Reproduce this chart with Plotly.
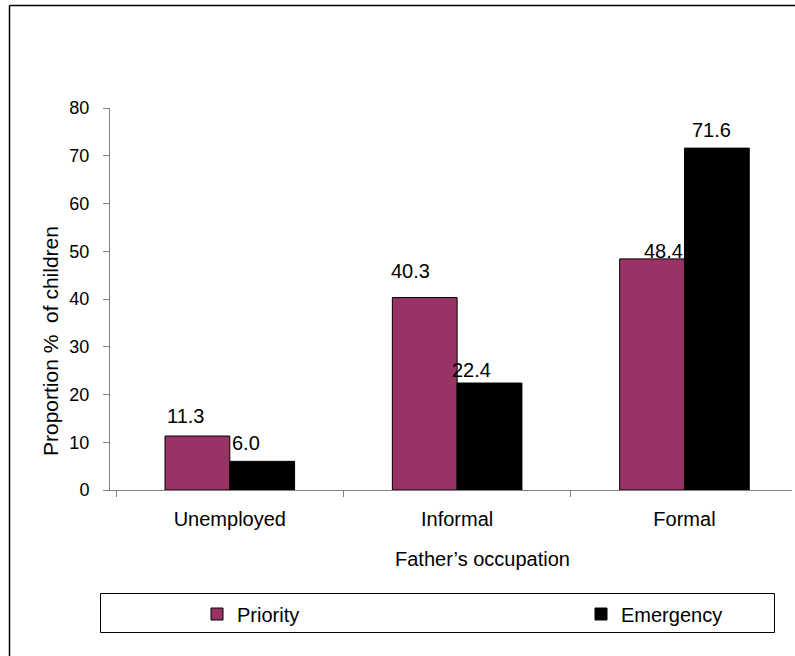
import plotly.graph_objects as go

# Data
categories = ["Unemployed", "Informal", "Formal"]
priority = [11.3, 40.3, 48.4]
emergency = [6.0, 22.4, 71.6]
y_ticks = [0, 10, 20, 30, 40, 50, 60, 70, 80]

# Figure geometry (pixels)
W, H = 795, 656
L, R, T, B = 110, 3, 108, 166
PW, PH = W - L - R, H - T - B


def px_x(x):
    return (x - L) / PW


def px_y(y):
    return (H - B - y) / PH


FONT = "Arial, 'Liberation Sans', sans-serif"
AXIS_GREY = "#808080"

fig = go.Figure()
fig.add_trace(go.Bar(
    name="Priority", x=categories, y=priority, legend="legend",
    marker=dict(color="#993366", line=dict(color="#000000", width=1)),
))
fig.add_trace(go.Bar(
    name="Emergency", x=categories, y=emergency, legend="legend2",
    marker=dict(color="#000000", line=dict(color="#000000", width=1)),
))

# Value labels above each bar (offsets in pixels relative to the category centre)
label_dx = [[-44, -47, -21], [16, 14, 27]]
label_dy = [[20, 27, 8], [18, 13, 18]]
annotations = []
for s, vals in enumerate([priority, emergency]):
    for i, v in enumerate(vals):
        annotations.append(dict(
            x=categories[i], y=v, xref="x", yref="y",
            text=f"{v:.1f}", showarrow=False,
            xanchor="center", yanchor="middle",
            xshift=label_dx[s][i], yshift=label_dy[s][i],
            font=dict(family=FONT, size=20, color="#000000"),
        ))

annotations.append(dict(
    x=px_x(482), y=px_y(559), xref="paper", yref="paper",
    text="Father\u2019s occupation", showarrow=False,
    xanchor="center", yanchor="middle",
    font=dict(family=FONT, size=20, color="#000000"),
))
annotations.append(dict(
    x=px_x(50), y=px_y(341), xref="paper", yref="paper",
    text="Proportion %  of children", showarrow=False, textangle=-90,
    xanchor="center", yanchor="middle",
    font=dict(family=FONT, size=21, color="#000000"),
))

shapes = [
    # outer chart frame (top and left edges)
    dict(type="line", xref="paper", yref="paper",
         x0=px_x(9.5), x1=px_x(800), y0=px_y(5.5), y1=px_y(5.5),
         line=dict(color="#000000", width=1.5)),
    dict(type="line", xref="paper", yref="paper",
         x0=px_x(9.5), x1=px_x(9.5), y0=px_y(5.5), y1=px_y(660),
         line=dict(color="#000000", width=1.5)),
    # legend frame
    dict(type="rect", xref="paper", yref="paper",
         x0=px_x(100.5), x1=px_x(774.5), y0=px_y(593.5), y1=px_y(632.5),
         line=dict(color="#000000", width=1)),
]

legend_common = dict(
    orientation="h", xanchor="left", yanchor="middle",
    font=dict(family=FONT, size=20, color="#000000"),
    bgcolor="rgba(0,0,0,0)", borderwidth=0,
)

fig.update_layout(
    width=W, height=H,
    margin=dict(l=L, r=R, t=T, b=B, pad=0),
    paper_bgcolor="#ffffff", plot_bgcolor="#ffffff",
    barmode="group", bargap=0.43, bargroupgap=0,
    font=dict(family=FONT, size=18, color="#000000"),
    showlegend=True,
    legend=dict(x=px_x(197), y=px_y(614), **legend_common),
    legend2=dict(x=px_x(581), y=px_y(614), **legend_common),
    annotations=annotations,
    shapes=shapes,
    xaxis=dict(
        range=[-0.527, 2.473],
        showline=True, linecolor=AXIS_GREY, linewidth=1,
        ticks="outside", tickson="boundaries", ticklen=6, tickcolor=AXIS_GREY,
        tickfont=dict(family=FONT, size=20, color="#000000"),
        ticklabelstandoff=11,
        showgrid=False, zeroline=False,
    ),
    yaxis=dict(
        range=[0, 80], tickvals=y_ticks,
        showline=True, linecolor=AXIS_GREY, linewidth=1,
        ticks="outside", ticklen=6, tickcolor=AXIS_GREY,
        tickfont=dict(family=FONT, size=18, color="#000000"),
        ticklabelstandoff=10,
        showgrid=False, zeroline=False,
    ),
)

fig.write_html("out.html")
